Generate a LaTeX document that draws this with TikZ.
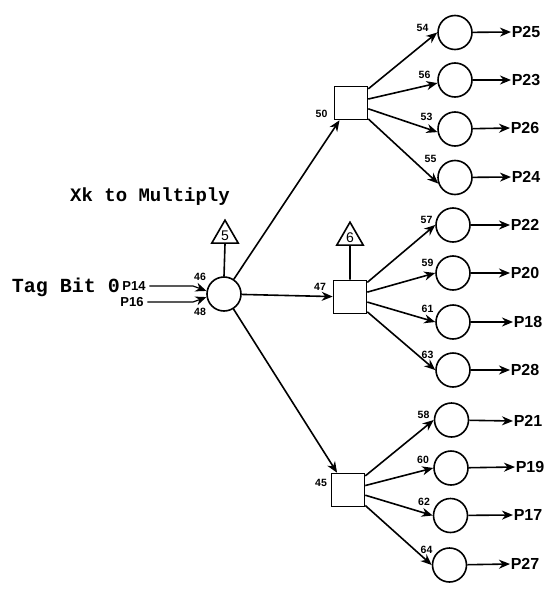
\documentclass[tikz,border=0pt]{standalone}
\usepackage{fontspec}
\setmainfont{Liberation Sans}
\newfontfamily\monofam{Liberation Mono}
\usetikzlibrary{shapes.geometric,arrows.meta}
\begin{document}
\begin{tikzpicture}[x=1pt,y=-1pt,
  line width=1.6pt,
  arr/.style={-{Stealth[length=11pt,width=9pt,inset=3.5pt]}},
  circ/.style={circle,draw,minimum size=34pt,inner sep=0pt},
  sq/.style={rectangle,draw,minimum size=33pt,inner sep=0pt},
  tri/.style={regular polygon,regular polygon sides=3,draw,minimum size=30.6pt,inner sep=0pt,font=\fontsize{14}{14}\selectfont},
  num/.style={font=\fontsize{10.5}{10.5}\selectfont\bfseries,inner sep=0pt},
  inlab/.style={font=\fontsize{13}{13}\selectfont\bfseries,inner sep=0pt},
  plab/.style={font=\fontsize{16}{16}\selectfont\bfseries,inner sep=0pt,anchor=west},
  ttlab/.style={font=\fontsize{19}{19}\selectfont\monofam\bfseries,inner sep=0pt}
]
\useasboundingbox (0,0) rectangle (549,589);

% titles
\node[ttlab] (xk) at (150,197) {Xk to Multiply};
\node[ttlab,anchor=west,font=\fontsize{20}{20}\selectfont\monofam\bfseries] (tag) at (11,287) {Tag Bit 0};

% main circle
\node[circ] (main) at (224,294) {};
\node[tri] (t5) at (225,235.5) {5};
\draw (t5.south) -- (main.north);

% inputs
\node[inlab] (p14) at (134,286) {P14};
\node[inlab] (p16) at (132,302) {P16};
\draw[arr,line width=1.2pt] (p14.east) ++(3pt,0) coordinate (p14e) -- (193,286) -- (main.170);
\draw[arr,line width=1.2pt] (p16.east) ++(3pt,0) coordinate (p16e) -- (193,302) -- (main.190);
\node[num] (n46) at (200,277) {46};
\node[num] (n48) at (200,312) {48};

% squares
\node[sq] (s50) at (351,103) {};
\node[sq] (s47) at (350,297) {};
\node[sq] (s45) at (348,490) {};
\node[tri] (t6) at (350,237.5) {6};
\draw (t6.south) -- (s47.north);

\draw[arr] (main) -- (s50);
\draw[arr] (main) -- (s47);
\draw[arr] (main) -- (s45);
\node[num] (n50) at (321.5,114) {50};
\node[num] (n47) at (320,286.5) {47};
\node[num] (n45) at (321,483) {45};

% top group
\node[circ] (c1) at (455,32.5) {};
\node[circ] (c2) at (455,80) {};
\node[circ] (c3) at (455,129) {};
\node[circ] (c4) at (455,177.5) {};
\foreach \c/\a in {c1/180,c2/190,c3/190,c4/200} \draw[arr] (s50) -- (\c.\a);
\node[num] at (422.5,27.5) {54};
\node[num] at (424.5,75) {56};
\node[num] at (426.5,116.5) {53};
\node[num] at (430.5,159) {55};
\node[plab] (o1) at (511,32) {P25};
\node[plab] (o2) at (511,80) {P23};
\node[plab] (o3) at (510,128) {P26};
\node[plab] (o4) at (511,177) {P24};
\draw[arr] (c1) -- (o1.west);
\draw[arr] (c2) -- (o2.west);
\draw[arr] (c3) -- (o3.west);
\draw[arr] (c4) -- (o4.west);

% middle group
\node[circ] (d1) at (453,225) {};
\node[circ] (d2) at (453,273) {};
\node[circ] (d3) at (453,322) {};
\node[circ] (d4) at (453,370) {};
\foreach \c in {d1,d2,d3,d4} \draw[arr] (s47) -- (\c.west);
\node[num] at (426.5,220) {57};
\node[num] at (427.5,263) {59};
\node[num] at (427.5,309) {61};
\node[num] at (427.5,355) {63};
\node[plab] (q1) at (510,225) {P22};
\node[plab] (q2) at (510,273) {P20};
\node[plab] (q3) at (513,322) {P18};
\node[plab] (q4) at (510,370) {P28};
\draw[arr] (d1) -- (q1.west);
\draw[arr] (d2) -- (q2.west);
\draw[arr] (d3) -- (q3.west);
\draw[arr] (d4) -- (q4.west);

% bottom group
\node[circ] (e1) at (451.5,420) {};
\node[circ] (e2) at (451,468) {};
\node[circ] (e3) at (450.5,515.5) {};
\node[circ] (e4) at (449.5,565) {};
\foreach \c in {e1,e2,e3,e4} \draw[arr] (s45) -- (\c.west);
\node[num] at (423.5,415) {58};
\node[num] at (423,459.5) {60};
\node[num] at (424,501.5) {62};
\node[num] at (426.5,549.5) {64};
\node[plab] (r1) at (513,421) {P21};
\node[plab] (r2) at (515,467) {P19};
\node[plab] (r3) at (513,515) {P17};
\node[plab] (r4) at (510,564) {P27};
\draw[arr] (e1) -- (r1.west);
\draw[arr] (e2) -- (r2.west);
\draw[arr] (e3) -- (r3.west);
\draw[arr] (e4) -- (r4.west);
\end{tikzpicture}
\end{document}
